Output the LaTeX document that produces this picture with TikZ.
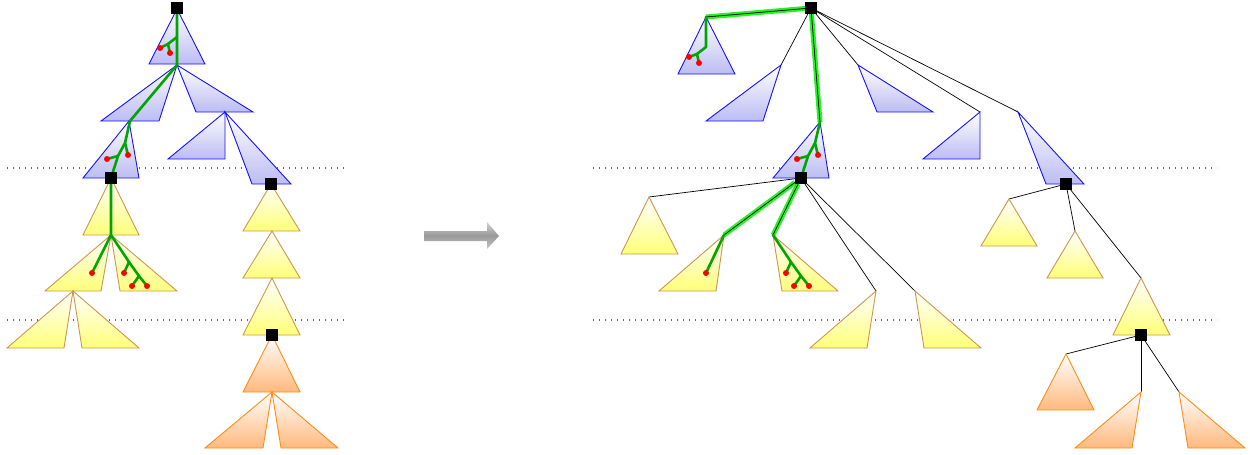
\documentclass[tikz,border=0pt]{standalone}
\usetikzlibrary{shapes.geometric}
\definecolor{tblue}{RGB}{20,20,250}
\definecolor{bfill}{RGB}{188,188,244}
\definecolor{ystroke}{RGB}{205,150,80}
\definecolor{yfill}{RGB}{255,255,120}
\definecolor{ostroke}{RGB}{255,140,25}
\definecolor{ofill}{RGB}{255,185,125}
\definecolor{tgreen}{RGB}{0,165,0}
\definecolor{lgreen}{RGB}{40,240,40}
\pgfdeclarelayer{bg}
\pgfsetlayers{bg,main}
\tikzset{
  bt/.style={draw=tblue, line width=0.9pt, top color=white, bottom color=bfill, line join=miter},
  yt/.style={draw=ystroke, line width=0.9pt, top color=white, bottom color=yfill, line join=miter},
  ot/.style={draw=ostroke, line width=0.9pt, top color=white, bottom color=ofill, line join=miter},
  sq/.style={fill=black, minimum size=12pt, inner sep=0pt, outer sep=0pt},
  gpath/.style={draw=tgreen, line width=2.6pt, line cap=round, line join=round},
  rdot/.style={fill=red, circle, minimum size=6pt, inner sep=0pt},
  edgeline/.style={draw=black, line width=0.7pt},
  glow/.style={draw=lgreen, line width=5pt},
  sepline/.style={draw=black!60, line width=1.6pt, dash pattern=on 1.2pt off 4.8pt},
}
\newcommand\mytri[4]{\path[#1] #2 -- #3 -- #4 -- cycle;}
\begin{document}
\begin{tikzpicture}[x=1pt,y=-1pt]
\useasboundingbox (0,0) rectangle (1250,455);
% ---------- square nodes (on top) ----------
\node[sq] (S1) at (177,8) {};
\node[sq] (S2) at (111,178) {};
\node[sq] (S3) at (271,184) {};
\node[sq] (S4) at (272,335) {};
\node[sq] (R1) at (811,8) {};
\node[sq] (R2) at (801,178) {};
\node[sq] (R3) at (1066,184) {};
\node[sq] (R4) at (1141,335) {};
\begin{pgfonlayer}{bg}
% separators
\draw[sepline] (7,168) coordinate (sl1) -- (345,168) coordinate (sl2);
\draw[sepline] (7,320) coordinate (sl3) -- (345,320) coordinate (sl4);
\draw[sepline] (593,168) coordinate (sr1) -- (1217,168) coordinate (sr2);
\draw[sepline] (593,320) coordinate (sr3) -- (1217,320) coordinate (sr4);
% ---------- left tree ----------
\mytri{bt}{(177,9)}{(149,64)}{(205,64)}
\mytri{bt}{(177,65)}{(101,121)}{(159,121)}
\mytri{bt}{(177,65)}{(196,112)}{(253,112)}
\mytri{bt}{(129,121)}{(83,178)}{(139,178)}
\mytri{bt}{(225,112)}{(168,159)}{(225,159)}
\mytri{bt}{(225,112)}{(252,184)}{(291,184)}
\mytri{yt}{(111,178)}{(83,235)}{(139,235)}
\mytri{yt}{(111,235)}{(45,291)}{(101,291)}
\mytri{yt}{(111,235)}{(120,291)}{(177,291)}
\mytri{yt}{(73,291)}{(7,348)}{(64,348)}
\mytri{yt}{(73,291)}{(82,348)}{(139,348)}
\mytri{yt}{(271,184)}{(243,231)}{(300,231)}
\mytri{yt}{(272,231)}{(243,278)}{(300,278)}
\mytri{yt}{(272,278)}{(243,335)}{(300,335)}
\mytri{ot}{(272,335)}{(243,392)}{(300,392)}
\mytri{ot}{(272,392)}{(205,448)}{(263,448)}
\mytri{ot}{(272,392)}{(281,448)}{(338,448)}
% green path left
\draw[gpath] (S1) -- (177,65) -- (130,121) -- (125,143) -- (118,156) -- (S2);
\draw[gpath] (S2) -- (111,235) -- (129,262) -- (139,276) -- (147,286) coordinate (ld8);
\draw[gpath] (177,37) -- (168,44) -- (160,48) coordinate (ld1);
\draw[gpath] (168,44) -- (170,53) coordinate (ld2);
\draw[gpath] (125,143) -- (128,155) coordinate (ld3);
\draw[gpath] (118,156) -- (107,159) coordinate (ld4);
\draw[gpath] (111,235) -- (92,273) coordinate (ld5);
\draw[gpath] (129,262) -- (124,273) coordinate (ld6);
\draw[gpath] (139,276) -- (132,286) coordinate (ld7);
\foreach \d in {ld1,ld2,ld3,ld4,ld5,ld6,ld7,ld8} \node[rdot] at (\d) {};
% ---------- arrow ----------
\path[top color=gray!35, bottom color=gray!45, middle color=gray!80]
  (424,231) coordinate (ar1) -- (487,231) -- (487,222) -- (499,236) coordinate (ar2) -- (487,249) -- (487,241) -- (424,241) -- cycle;
% ---------- right tree ----------
\coordinate (aA) at (706,17);
\coordinate (aB) at (781,65);
\coordinate (aC) at (858,65);
\coordinate (aD) at (980,112);
\coordinate (aE) at (1018,112);
\coordinate (aF) at (820,122);
\coordinate (aG) at (649,197);
\coordinate (aH) at (724,235);
\coordinate (aI) at (773,235);
\coordinate (aJ) at (876,291);
\coordinate (aK) at (915,291);
\coordinate (aL) at (1009,199);
\coordinate (aM) at (1075,231);
\coordinate (aN) at (1141,278);
\coordinate (aO) at (1066,354);
\coordinate (aP) at (1141,392);
\coordinate (aQ) at (1179,392);
% edges
\draw[glow] (R1) -- (aA);
\draw[glow] (R1) -- (aF);
\draw[glow] (R2) -- (aH);
\draw[glow] (R2) -- (aI);
\foreach \t in {aA,aB,aC,aD,aE,aF} \draw[edgeline] (R1) -- (\t);
\foreach \t in {aG,aH,aI,aJ,aK} \draw[edgeline] (R2) -- (\t);
\foreach \t in {aL,aM,aN} \draw[edgeline] (R3) -- (\t);
\foreach \t in {aO,aP,aQ} \draw[edgeline] (R4) -- (\t);
% triangles
\mytri{bt}{(aA)}{(678,74)}{(735,74)}
\mytri{bt}{(aB)}{(706,121)}{(763,121)}
\mytri{bt}{(aC)}{(877,112)}{(933,112)}
\mytri{bt}{(aD)}{(923,159)}{(980,159)}
\mytri{bt}{(aE)}{(1046,184)}{(1084,184)}
\mytri{bt}{(aF)}{(773,178)}{(829,178)}
\mytri{yt}{(aG)}{(621,254)}{(678,254)}
\mytri{yt}{(aH)}{(659,291)}{(716,291)}
\mytri{yt}{(aI)}{(782,291)}{(838,291)}
\mytri{yt}{(aJ)}{(810,348)}{(867,348)}
\mytri{yt}{(aK)}{(924,348)}{(981,348)}
\mytri{yt}{(aL)}{(981,246)}{(1037,246)}
\mytri{yt}{(aM)}{(1047,278)}{(1103,278)}
\mytri{yt}{(aN)}{(1113,335)}{(1170,335)}
\mytri{ot}{(aO)}{(1037,410)}{(1094,410)}
\mytri{ot}{(aP)}{(1075,448)}{(1132,448)}
\mytri{ot}{(aQ)}{(1188,448)}{(1245,448)}
% green paths right
\draw[gpath] (aA) -- (706,47) -- (697,54) -- (689,57) coordinate (rd1);
\draw[gpath] (697,54) -- (699,63) coordinate (rd2);
\draw[gpath] (aF) -- (815,143) -- (808,156) -- (R2);
\draw[gpath] (815,143) -- (818,155) coordinate (rd3);
\draw[gpath] (808,156) -- (797,159) coordinate (rd4);
\draw[gpath] (aH) -- (706,273) coordinate (rd5);
\draw[gpath] (aI) -- (791,262) -- (801,276) -- (809,286) coordinate (rd8);
\draw[gpath] (791,262) -- (786,273) coordinate (rd6);
\draw[gpath] (801,276) -- (794,286) coordinate (rd7);
\foreach \d in {rd1,rd2,rd3,rd4,rd5,rd6,rd7,rd8} \node[rdot] at (\d) {};
\end{pgfonlayer}
\end{tikzpicture}
\end{document}
